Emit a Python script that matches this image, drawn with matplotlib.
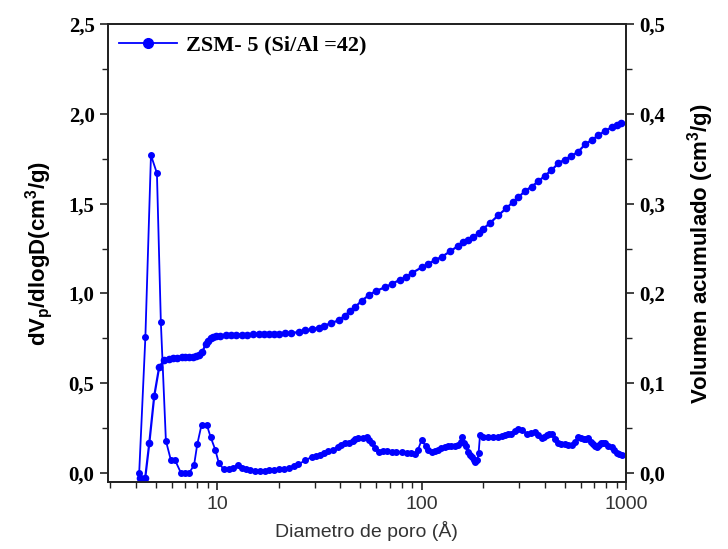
import matplotlib
matplotlib.use("Agg")
import matplotlib.pyplot as plt
from matplotlib.ticker import FixedLocator, FuncFormatter, LogLocator, NullFormatter, MultipleLocator

plt.rcParams['mathtext.fontset'] = 'custom'
plt.rcParams['mathtext.rm'] = 'Liberation Sans'
plt.rcParams['mathtext.bf'] = 'Liberation Sans:bold'
plt.rcParams['mathtext.default'] = 'bf'

# Pore size distribution, dV/dlogD (cm3/g) vs pore diameter (Å)
psd_d = [4.16, 4.46, 4.75, 5.08, 5.31, 5.62, 5.95, 6.24, 6.66, 7.0, 7.3, 7.72,
         8.0, 8.4, 8.9, 9.3, 9.8, 10.2, 10.8, 11.5, 12.0, 12.6, 13.2, 13.8,
         14.5, 15.3, 16.2, 17.1, 18.0, 19.0, 20.0, 21.2, 22.4, 23.7, 25.0,
         27.0, 29.0, 30.5, 32.0, 33.5, 35.0, 37.0, 39.0, 40.5, 42.0, 44.0,
         46.0, 47.5, 49.0, 51.5, 54.0, 55.5, 57.0, 59.5, 62.0, 65.0, 68.0,
         71.5, 75.0, 80.0, 85.0, 89.0, 93.0, 96.0, 100.0, 105.0, 108.0, 112.0,
         116.0, 120.0, 125.0, 130.0, 135.0, 140.0, 145.0, 151.0, 155.0, 158.0,
         162.0, 165.0, 169.0, 173.0, 176.0, 180.0, 183.0, 187.0, 190.0, 193.0,
         200.0, 211.0, 224.0, 237.0, 246.0, 255.0, 265.0, 275.0, 286.0, 297.0,
         310.0, 326.0, 342.0, 358.0, 372.0, 386.0, 398.0, 410.0, 421.0, 433.0,
         450.0, 467.0, 483.0, 500.0, 520.0, 542.0, 562.0, 584.0, 602.0, 620.0,
         637.0, 654.0, 672.0, 690.0, 704.0, 718.0, 735.0, 755.0, 772.0, 790.0,
         820.0, 850.0, 875.0, 898.0, 925.0, 950.0]
psd_v = [0.0, 0.755, 1.77, 1.67, 0.84, 0.18, 0.07, 0.07, 0.0, 0.0, 0.0, 0.045,
         0.16, 0.27, 0.27, 0.2, 0.13, 0.055, 0.02, 0.02, 0.03, 0.045, 0.03, 0.02,
         0.015, 0.01, 0.01, 0.01, 0.015, 0.018, 0.02, 0.025, 0.03, 0.04, 0.05,
         0.07, 0.09, 0.095, 0.10, 0.11, 0.12, 0.13, 0.145, 0.155, 0.165, 0.17,
         0.18, 0.188, 0.193, 0.196, 0.198, 0.185, 0.165, 0.14, 0.118, 0.12, 0.12,
         0.118, 0.118, 0.115, 0.11, 0.11, 0.105, 0.13, 0.183, 0.15, 0.13, 0.118,
         0.125, 0.13, 0.14, 0.146, 0.148, 0.15, 0.152, 0.155, 0.175, 0.198,
         0.17, 0.15, 0.118, 0.1, 0.09, 0.075, 0.063, 0.07, 0.109, 0.21,
         0.2, 0.2, 0.2, 0.2, 0.205, 0.21, 0.215, 0.22, 0.235, 0.248,
         0.24, 0.22, 0.225, 0.23, 0.21, 0.193, 0.2, 0.21, 0.215, 0.22,
         0.19, 0.165, 0.16, 0.16, 0.158, 0.155, 0.175, 0.2, 0.195, 0.19,
         0.19, 0.193, 0.175, 0.16, 0.15, 0.146, 0.155, 0.165, 0.165, 0.165,
         0.15, 0.146, 0.13, 0.109, 0.105, 0.1]

# Cumulative pore volume (cm3/g)
cum_d = [4.2, 4.45, 4.66, 4.93, 5.21, 5.51, 5.8, 6.1, 6.4, 6.7, 7.0, 7.3, 7.6,
         7.9, 8.2, 8.48, 8.8, 9.05, 9.3, 9.6, 9.85, 10.3, 11.0, 11.7, 12.4,
         13.2, 14.0, 15.0, 16.0, 17.0, 18.0, 19.0, 20.1, 21.5, 23.0, 25.1, 27.0,
         29.0, 31.4, 33.5, 36.0, 39.3, 42.0, 44.5, 47.4, 51.0, 55.2, 60.0, 66.5,
         72.0, 78.0, 83.5, 90.0, 100.0, 108.0, 116.0, 126.0, 138.0, 151.0, 160.0,
         169.0, 178.0, 190.0, 200.0, 215.0, 237.0, 260.0, 280.0, 297.0, 320.0,
         345.0, 373.0, 400.0, 430.0, 467.0, 500.0, 540.0, 584.0, 630.0, 680.0,
         731.0, 788.0, 850.0, 900.0, 941.0]
cum_v = [-0.006, -0.006, 0.033, 0.086, 0.118, 0.126, 0.127, 0.128, 0.128, 0.129,
         0.129, 0.129, 0.129, 0.130, 0.132, 0.135, 0.144, 0.147, 0.150, 0.152,
         0.153, 0.153, 0.154, 0.154, 0.154, 0.154, 0.154, 0.155, 0.155, 0.155,
         0.155, 0.155, 0.155, 0.156, 0.156, 0.157, 0.159, 0.160, 0.162, 0.164,
         0.167, 0.170, 0.175, 0.180, 0.185, 0.192, 0.198, 0.203, 0.207, 0.211,
         0.215, 0.218, 0.223, 0.229, 0.233, 0.237, 0.241, 0.247, 0.253, 0.257,
         0.260, 0.263, 0.267, 0.272, 0.278, 0.287, 0.295, 0.302, 0.307, 0.314,
         0.319, 0.325, 0.331, 0.337, 0.345, 0.349, 0.353, 0.358, 0.366, 0.371,
         0.376, 0.381, 0.385, 0.388, 0.390]

x_ticks = [10, 100, 1000]
left_ticks = [0.0, 0.5, 1.0, 1.5, 2.0, 2.5]
right_ticks = [0.0, 0.1, 0.2, 0.3, 0.4, 0.5]
legend_label = "ZSM- 5 (Si/Al =42)"

BLUE = "#0000FF"
AXCOL = "#222222"

fig = plt.figure(figsize=(7.28, 5.49), dpi=100)
ax = fig.add_axes([0.148, 0.122, 0.712, 0.834])
ax2 = ax.twinx()

ax.plot(psd_d, psd_v, color=BLUE, lw=1.3, marker="o", ms=4, mec=BLUE,
        mfc=BLUE, label=legend_label)
ax2.plot(cum_d, cum_v, color=BLUE, lw=1.6, marker="o", ms=4.5, mec=BLUE, mfc=BLUE)

ax.set_xscale("log")
ax.set_xlim(2.92, 1000)
ax.set_ylim(-0.05, 2.5)
ax2.set_ylim(-0.01, 0.5)

ax.xaxis.set_major_locator(FixedLocator(x_ticks))
ax.xaxis.set_major_formatter(FuncFormatter(lambda v, p: f"{int(round(v))}"))
ax.xaxis.set_minor_locator(LogLocator(base=10, subs=range(2, 10), numticks=20))
ax.xaxis.set_minor_formatter(NullFormatter())

comma = FuncFormatter(lambda v, p: f"{v:.1f}".replace(".", ","))
ax.yaxis.set_major_locator(FixedLocator(left_ticks))
ax.yaxis.set_minor_locator(MultipleLocator(0.25))
ax.yaxis.set_major_formatter(comma)
ax2.yaxis.set_major_locator(FixedLocator(right_ticks))
ax2.yaxis.set_minor_locator(MultipleLocator(0.05))
ax2.yaxis.set_major_formatter(comma)

for a in (ax, ax2):
    for s in a.spines.values():
        s.set_linewidth(1.3)
        s.set_color(AXCOL)
ax.tick_params(axis="both", which="major", direction="out", length=6, width=1.2,
               color=AXCOL)
ax.tick_params(axis="both", which="minor", direction="out", length=4, width=1.0,
               color=AXCOL)
ax2.tick_params(axis="y", which="major", direction="out", length=6, width=1.2,
                color=AXCOL)
ax2.tick_params(axis="y", which="minor", direction="out", length=4, width=1.0,
                color=AXCOL)

for lab in ax.get_yticklabels() + ax2.get_yticklabels():
    lab.set_fontproperties("Liberation Serif")
    lab.set_fontweight("bold")
    lab.set_fontsize(15)
for lab in ax.get_xticklabels():
    lab.set_family("Liberation Sans")
    lab.set_fontsize(14)
    lab.set_color("#333333")
ax.tick_params(axis="x", pad=4)

ax.set_xlabel("Diametro de poro (Å)", family="Liberation Sans", fontsize=14,
              color="#333333", labelpad=6)
ax.set_ylabel("dV$_{p}$/dlogD(cm$^{3}$/g)", family="Liberation Sans",
              weight="bold", fontsize=16, labelpad=10)
ax2.set_ylabel("Volumen acumulado (cm$^{3}$/g)", family="Liberation Sans",
               weight="bold", fontsize=16, labelpad=14)

leg = ax.legend(loc="upper left", frameon=False, handlelength=2.6,
                handletextpad=0.4, borderaxespad=0.3, borderpad=0.2,
                prop=dict(family="Liberation Serif", weight="bold", size=16))
leg.legend_handles[0].set_markersize(7)

fig.savefig("out.png", dpi=100)
